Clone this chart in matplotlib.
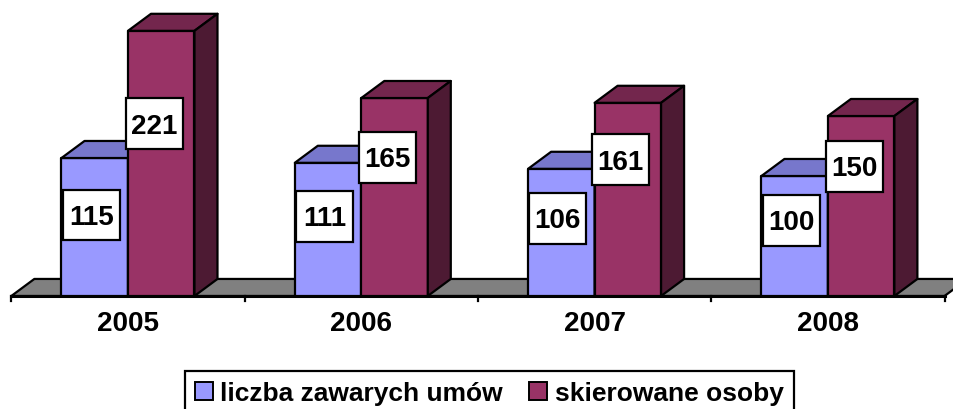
import matplotlib
matplotlib.use("Agg")
import matplotlib.pyplot as plt
from matplotlib.patches import Polygon, Patch, Rectangle

years = ["2005", "2006", "2007", "2008"]
umowy = [115, 111, 106, 100]
osoby = [221, 165, 161, 150]
series_names = ["liczba zawarych umów", "skierowane osoby"]

plt.rcParams['font.family'] = ['Liberation Sans', 'DejaVu Sans']

# face colours: front, top, side
blue_faces = ['#9999FF', '#7777CC', '#5C5CA3']
red_faces = ['#993366', '#73264D', '#4D1A33']
floor_col = '#808080'

W = 0.285    # bar width in category units
DX = 0.0986  # depth offset (x)
DY = 14.2    # depth offset (y)
LW = 1.6
BOX_W, BOX_H = 0.244, 42.5  # label box size in data units

fig = plt.figure(figsize=(9.54, 4.09), dpi=100)
ax = fig.add_axes([0, 0, 1, 1])
ax.set_xlim(-0.5486, 3.5405)
ax.set_ylim(-94.2, 246.7)
ax.axis('off')


def poly(pts, fc, z):
    ax.add_patch(Polygon(pts, closed=True, facecolor=fc, edgecolor='black',
                         linewidth=LW, joinstyle='round', zorder=z))


def bar3d(x0, h, faces, z):
    x1 = x0 + W
    poly([(x0, 0), (x1, 0), (x1, h), (x0, h)], faces[0], z)
    poly([(x0, h), (x1, h), (x1 + DX, h + DY), (x0 + DX, h + DY)], faces[1], z)
    poly([(x1, 0), (x1 + DX, DY), (x1 + DX, h + DY), (x1, h)], faces[2], z)


def label(xc, yc, val):
    ax.add_patch(Rectangle((xc - BOX_W / 2, yc - BOX_H / 2), BOX_W, BOX_H,
                           facecolor='white', edgecolor='black', linewidth=LW, zorder=20))
    ax.text(xc, yc, str(val), ha='center', va='center_baseline',
            fontsize=20, fontweight='bold', zorder=21)


# floor
n = len(years)
poly([(-0.5, 0), (n - 0.5, 0), (n - 0.5 + DX, DY), (-0.5 + DX, DY)], floor_col, 1)
ax.plot([-0.5, n - 0.5], [0, 0], color='black', lw=2.2, zorder=2)
for i in range(n + 1):
    ax.plot([i - 0.5, i - 0.5], [0, -4], color='black', lw=1.6, zorder=2)

for i, (a, b) in enumerate(zip(umowy, osoby)):
    bar3d(i - W, a, blue_faces, 3 + 2 * i)
    bar3d(i, b, red_faces, 4 + 2 * i)

# value labels
for i, (a, b) in enumerate(zip(umowy, osoby)):
    label(i - W / 2 - 0.015, 0.3 * a + 33, a)
    label(i + W / 2 - 0.03, 0.5 * b + 33, b)

# category labels
for i, y in enumerate(years):
    ax.text(i, -23.5, y, ha='center', va='center', fontsize=20, fontweight='bold')

handles = [Patch(facecolor=blue_faces[0], edgecolor='black', linewidth=1.4),
           Patch(facecolor=red_faces[0], edgecolor='black', linewidth=1.4)]
leg = fig.legend(handles, series_names, loc='upper center', bbox_to_anchor=(0.513, 0.093),
                 ncol=2, fancybox=False, framealpha=1, edgecolor='black',
                 prop={'weight': 'bold', 'size': 19}, handlelength=0.65, handleheight=0.65,
                 handletextpad=0.3, columnspacing=1.0, borderpad=0.4, borderaxespad=0)
leg.get_frame().set_linewidth(1.6)

fig.savefig('out.png', dpi=100)
